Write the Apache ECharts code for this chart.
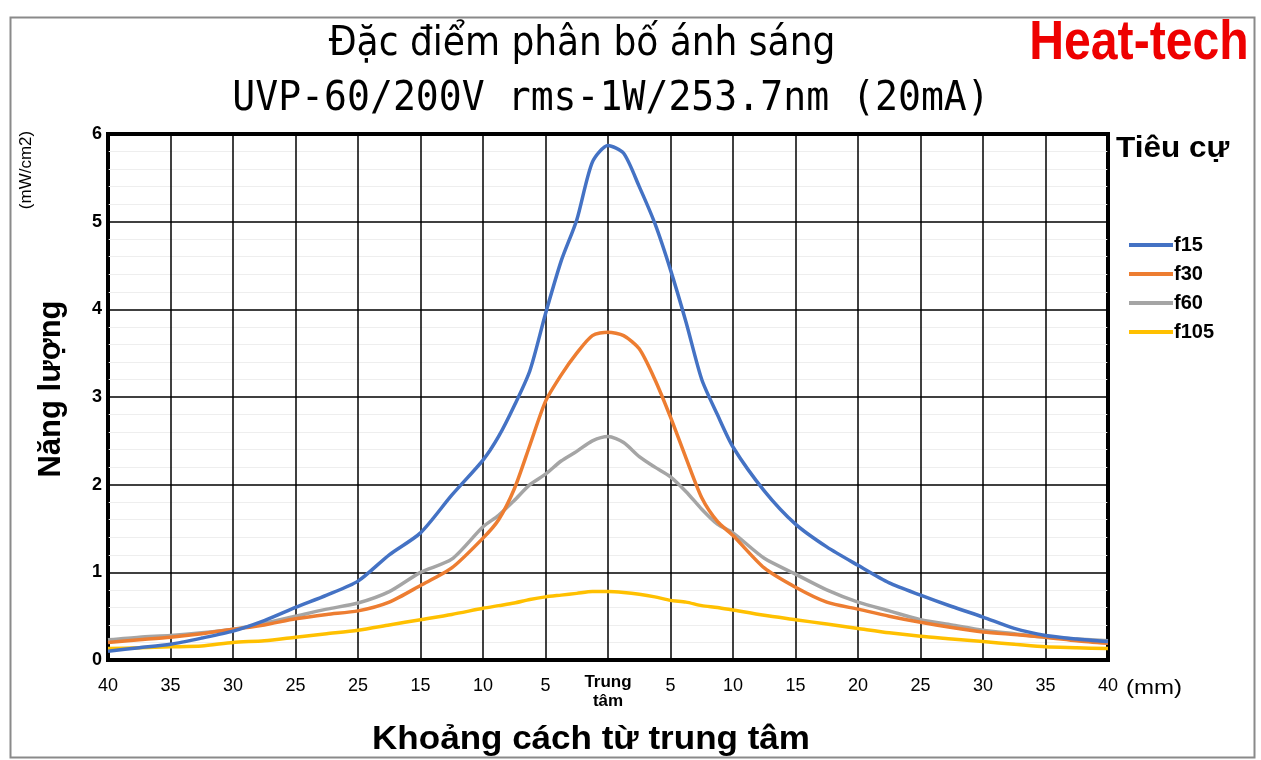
<!DOCTYPE html>
<html>
<head>
<meta charset="utf-8">
<script src="https://cdn.jsdelivr.net/npm/echarts@6/dist/echarts.min.js"></script>
<style>
  html, body { margin: 0; padding: 0; background: #fff; }
  #chart { width: 1261px; height: 760px; }
</style>
</head>
<body>
<div id="chart"></div>
<script>
// khoảng cách từ tâm (mm), âm = bên trái
const distances = [-40, -37.5, -35, -32.5, -30, -27.5, -25, -22.5, -20, -17.5, -15, -12.5, -10, -8.75, -7.5, -6.25, -5, -3.75, -2.5, -1.25,
  0, 1.25, 2.5, 3.75, 5, 6.25, 7.5, 8.75, 10, 12.5, 15, 17.5, 20, 22.5, 25, 27.5, 30, 32.5, 35, 37.5, 40]

const f15 = [0.10, 0.14, 0.18, 0.25, 0.33, 0.45, 0.60, 0.74, 0.90, 1.20, 1.45, 1.88, 2.28, 2.55, 2.90, 3.30, 3.95, 4.55, 5.02, 5.68,
  5.87, 5.78, 5.40, 4.98, 4.45, 3.85, 3.20, 2.80, 2.43, 1.93, 1.55, 1.29, 1.08, 0.88, 0.74, 0.61, 0.49, 0.36, 0.28, 0.24, 0.21]
const f30 = [0.20, 0.23, 0.26, 0.30, 0.35, 0.40, 0.47, 0.52, 0.56, 0.66, 0.85, 1.05, 1.39, 1.60, 1.95, 2.45, 2.95, 3.25, 3.50, 3.70,
  3.74, 3.70, 3.55, 3.20, 2.77, 2.30, 1.85, 1.58, 1.42, 1.05, 0.83, 0.66, 0.58, 0.50, 0.43, 0.37, 0.32, 0.29, 0.26, 0.22, 0.19]
const f60 = [0.23, 0.26, 0.28, 0.31, 0.35, 0.42, 0.50, 0.58, 0.65, 0.78, 1.00, 1.15, 1.52, 1.65, 1.82, 2.00, 2.12, 2.27, 2.38, 2.50,
  2.55, 2.48, 2.32, 2.20, 2.09, 1.92, 1.72, 1.55, 1.45, 1.16, 0.98, 0.80, 0.66, 0.56, 0.46, 0.40, 0.34, 0.30, 0.26, 0.24, 0.22]
const f105 = [0.13, 0.14, 0.15, 0.16, 0.20, 0.22, 0.26, 0.30, 0.34, 0.40, 0.46, 0.52, 0.59, 0.62, 0.65, 0.69, 0.72, 0.74, 0.76, 0.78,
  0.78, 0.77, 0.75, 0.72, 0.68, 0.66, 0.62, 0.60, 0.57, 0.51, 0.46, 0.41, 0.36, 0.31, 0.27, 0.24, 0.21, 0.18, 0.15, 0.14, 0.13]

// nhãn trục x (giữ nguyên như hình gốc, kể cả "25" lặp)
const xTickLabels = ['40', '35', '30', '25', '25', '15', '10', '5', 'Trung\ntâm', '5', '10', '15', '20', '25', '30', '35', '40']
const seriesNames = ['f15', 'f30', 'f60', 'f105']
const seriesColors = ['#4472C4', '#ED7D31', '#A5A5A5', '#FFC000']

const chart = echarts.init(document.getElementById('chart'))

const pairs = (vals) => distances.map((d, i) => [d, vals[i]])

const option = {
  backgroundColor: '#fff',
  animation: false,
  grid: {
    left: 108,
    top: 134,
    right: 153,
    bottom: 100,
    show: true,
    borderColor: '#000',
    borderWidth: 4,
    backgroundColor: 'transparent'
  },
  legend: {
    orient: 'vertical',
    left: 1124,
    top: 230,
    itemWidth: 44,
    itemHeight: 4,
    itemGap: 9,
    icon: 'rect',
    textStyle: { fontFamily: 'Liberation Sans', fontWeight: 'bold', fontSize: 20, color: '#000', padding: [0, 0, 0, -4] },
    data: seriesNames
  },
  xAxis: {
    type: 'value',
    min: -40,
    max: 40,
    interval: 5,
    axisLine: { show: false },
    axisTick: { show: false },
    splitLine: { show: true, lineStyle: { color: '#000', width: 1.5 } },
    axisLabel: {
      margin: 17,
      fontFamily: 'Liberation Sans',
      fontSize: 18,
      color: '#000',
      lineHeight: 18,
      verticalAlign: 'top',
      formatter: (v) => {
        const lbl = xTickLabels[Math.round((v + 40) / 5)]
        return v === 0 ? '{c|' + lbl + '}' : lbl
      },
      rich: {
        c: { fontFamily: 'Liberation Sans', fontWeight: 'bold', fontSize: 17, lineHeight: 19, color: '#000', align: 'center', padding: [-8, 0, 0, 0] }
      }
    }
  },
  yAxis: {
    type: 'value',
    min: 0,
    max: 6,
    interval: 1,
    axisLine: { show: false },
    axisTick: { show: false },
    splitLine: { show: true, lineStyle: { color: '#000', width: 1.5 } },
    minorTick: { show: false, splitNumber: 5 },
    minorSplitLine: { show: true, lineStyle: { color: '#eeeeee', width: 1 } },
    axisLabel: { margin: 6, fontFamily: 'Liberation Sans', fontWeight: 'bold', fontSize: 18, color: '#000' }
  },
  series: seriesNames.map((name, i) => ({
    name,
    type: 'line',
    data: pairs([f15, f30, f60, f105][i]),
    showSymbol: false,
    smooth: 0.25,
    z: 10 - i,
    itemStyle: { color: seriesColors[i] },
    lineStyle: { color: seriesColors[i], width: 3.5 }
  })),
  graphic: [
    {
      type: 'rect', left: 8, top: 15, z: -10, silent: true,
      shape: { width: 1244, height: 740 },
      style: { fill: 'none', stroke: '#8a8a8a', lineWidth: 2 }
    },
    {
      type: 'text', x: 582, y: 45, scaleX: 0.9,
      style: { text: 'Đặc điểm phân bố ánh sáng', fontFamily: 'DejaVu Sans', fontSize: 40, fill: '#000', align: 'center', verticalAlign: 'middle' }
    },
    {
      type: 'text', x: 611, y: 99, scaleX: 0.93,
      style: { text: 'UVP-60/200V rms-1W/253.7nm (20mA)', fontFamily: 'DejaVu Sans Mono', fontSize: 41, fill: '#000', align: 'center', verticalAlign: 'middle' }
    },
    {
      type: 'text', x: 1139, y: 44, scaleX: 0.86,
      style: { text: 'Heat-tech', fontFamily: 'Liberation Sans', fontWeight: 'bold', fontSize: 56, fill: '#ee0000', align: 'center', verticalAlign: 'middle' }
    },
    {
      type: 'text', x: 1116, y: 149, scaleX: 1.05,
      style: { text: 'Tiêu cự', fontFamily: 'Liberation Sans', fontWeight: 'bold', fontSize: 30, fill: '#000', align: 'left', verticalAlign: 'middle' }
    },
    {
      type: 'text', x: 1126, y: 688, scaleX: 1.2,
      style: { text: '(mm)', fontFamily: 'Liberation Sans', fontSize: 20, fill: '#000', align: 'left', verticalAlign: 'middle' }
    },
    {
      type: 'text', x: 591, y: 740, scaleX: 1.03,
      style: { text: 'Khoảng cách từ trung tâm', fontFamily: 'Liberation Sans', fontWeight: 'bold', fontSize: 34, fill: '#000', align: 'center', verticalAlign: 'middle' }
    },
    {
      type: 'text', x: 51, y: 389, rotation: Math.PI / 2,
      style: { text: 'Năng lượng', fontFamily: 'Liberation Sans', fontWeight: 'bold', fontSize: 31, fill: '#000', align: 'center', verticalAlign: 'middle' }
    },
    {
      type: 'text', x: 26, y: 170, rotation: Math.PI / 2,
      style: { text: '(mW/cm2)', fontFamily: 'Liberation Sans', fontSize: 17, fill: '#000', align: 'center', verticalAlign: 'middle' }
    }
  ]
}

chart.setOption(option)
</script>
</body>
</html>
